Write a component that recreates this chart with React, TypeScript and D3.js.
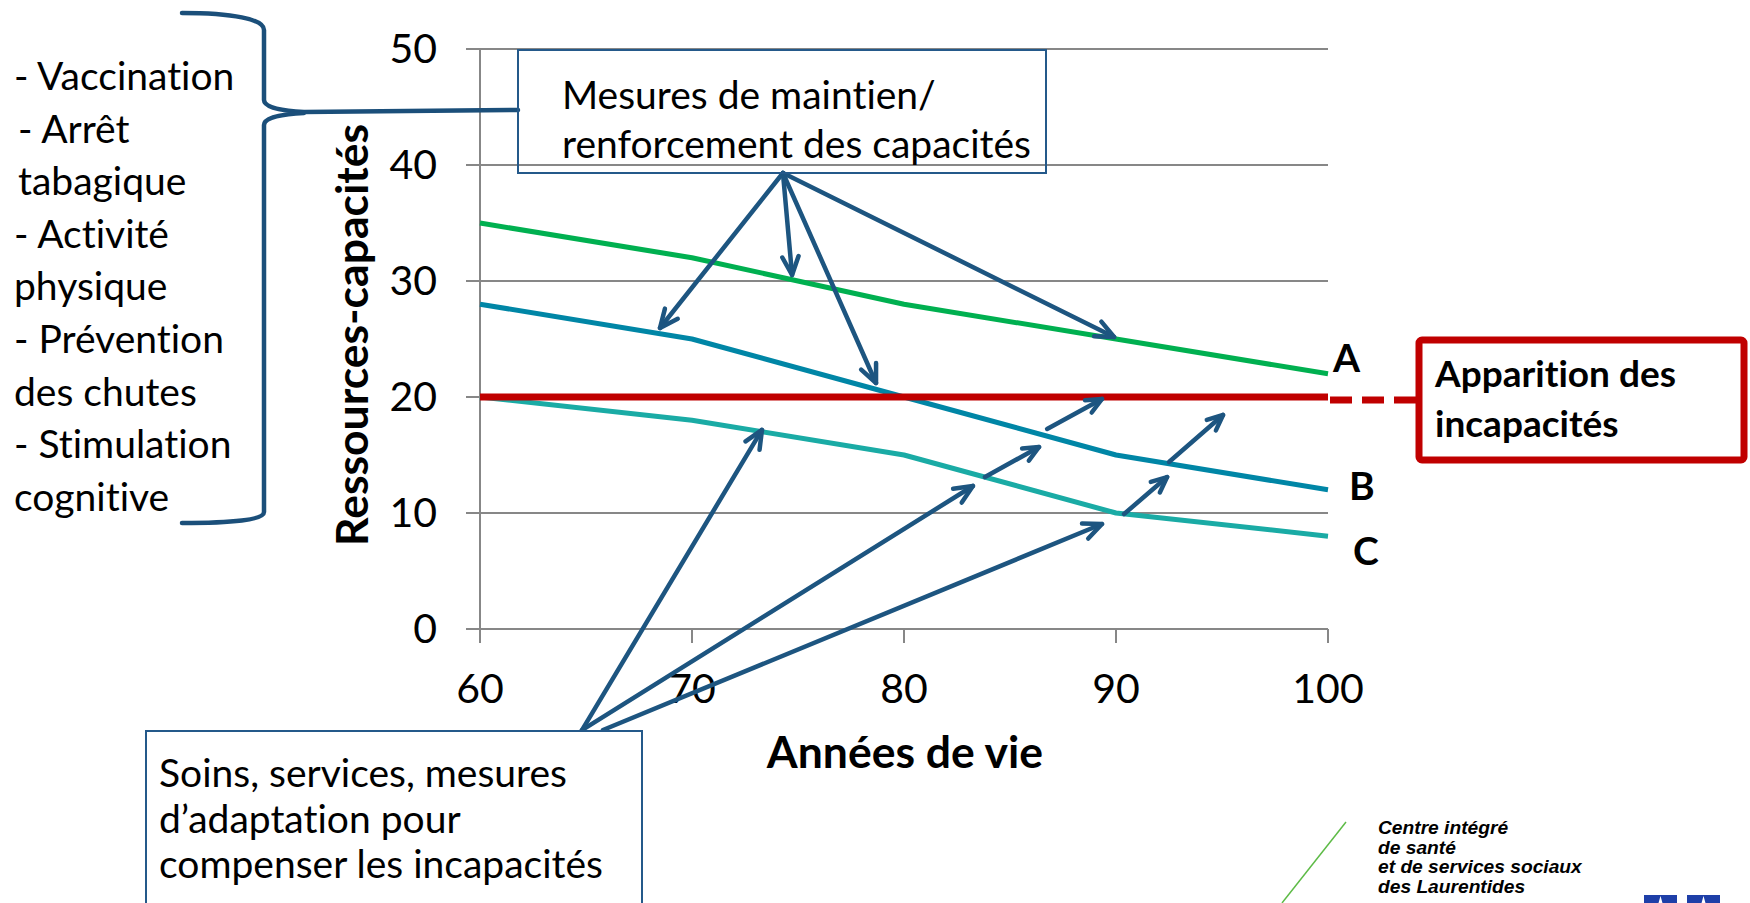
import React from "react";
import * as d3 from "d3";

const years = [60, 70, 80, 90, 100];
const seriesA = [35, 32, 28, 25, 22];
const seriesB = [28, 25, 20, 15, 12];
const seriesC = [20, 18, 15, 10, 8];
const threshold = 20;
const yTicks = [0, 10, 20, 30, 40, 50];
const xTicks = [60, 70, 80, 90, 100];
const seriesLabels = ["A", "B", "C"];

const leftList = [
  "- Vaccination",
  "- Arrêt",
  "tabagique",
  "- Activité",
  "physique",
  "- Prévention",
  "des chutes",
  "- Stimulation",
  "cognitive",
];
const leftIndent = [0, 4, 4, 0, 0, 0, 0, 0, 0];
const topBoxLines = ["Mesures de maintien/", "renforcement des capacités"];
const bottomBoxLines = ["Soins, services, mesures", "d’adaptation pour", "compenser les incapacités"];
const redBoxLines = ["Apparition des", "incapacités"];
const logoLines = ["Centre intégré", "de santé", "et de services sociaux", "des Laurentides"];

// arrows in data coordinates [x0, y0, x1, y1]
const topArrows = [
  [74.29, 39.31, 68.49, 25.95],
  [74.29, 39.31, 74.72, 30.52],
  [74.29, 39.31, 78.68, 21.21],
  [74.29, 39.31, 89.91, 25.17],
];
const bottomArrows = [
  [64.81, -8.71, 73.3, 17.16],
  [64.81, -8.71, 83.25, 12.33],
  [65.8, -8.71, 89.34, 9.05],
];
const smallArrows = [
  [83.82, 13.1, 86.37, 15.69],
  [86.75, 17.24, 89.34, 19.83],
  [90.38, 9.91, 92.41, 13.1],
  [92.5, 14.4, 95.05, 18.45],
];

const W = 1750;
const H = 903;
const x = d3.scaleLinear().domain([60, 100]).range([480, 1328]);
const y = d3.scaleLinear().domain([0, 50]).range([629, 49]);

const GRID = "#878787";
const ARROW = "#1D5580";
const RED = "#C00000";
const colors = ["#00B050", "#0086A6", "#1AABA5"];
const FONT = "Lato, 'Open Sans', sans-serif";

function Arrow({ a, head = 19 }: { a: number[]; head?: number }) {
  const x0 = x(a[0]), y0 = y(a[1]), x1 = x(a[2]), y1 = y(a[3]);
  const ang = Math.atan2(y1 - y0, x1 - x0);
  const spread = 0.42;
  const h1 = [x1 - head * Math.cos(ang - spread), y1 - head * Math.sin(ang - spread)];
  const h2 = [x1 - head * Math.cos(ang + spread), y1 - head * Math.sin(ang + spread)];
  return (
    <g stroke={ARROW} strokeWidth={4.5} fill="none" strokeLinecap="round" strokeLinejoin="round">
      <line x1={x0} y1={y0} x2={x1} y2={y1} />
      <path d={`M${h1[0]},${h1[1]}L${x1},${y1}L${h2[0]},${h2[1]}`} />
    </g>
  );
}

export default function App() {
  const series = [seriesA, seriesB, seriesC];
  const line = d3
    .line<number>()
    .x((_, i) => x(years[i]))
    .y((d) => y(d));

  return (
    <svg
      width={W}
      height={H}
      style={{
        position: "absolute",
        left: 0,
        top: 0,
        background: "#fff",
        fontVariantLigatures: "none",
        fontFeatureSettings: "'liga' 0, 'clig' 0, 'dlig' 0",
      }}
    >
      <rect x={0} y={0} width={W} height={H} fill="#fff" />
      {/* gridlines */}
      {yTicks.map((t) => (
        <line key={"g" + t} x1={466} x2={x(100)} y1={y(t)} y2={y(t)} stroke={GRID} strokeWidth={2} />
      ))}
      {/* y axis */}
      <line x1={x(60)} x2={x(60)} y1={y(50)} y2={y(0)} stroke={GRID} strokeWidth={2} />
      {/* x ticks */}
      {xTicks.map((t) => (
        <line key={"xt" + t} x1={x(t)} x2={x(t)} y1={y(0)} y2={y(0) + 14} stroke={GRID} strokeWidth={2} />
      ))}
      {/* y tick labels */}
      {yTicks.map((t) => (
        <text key={"yl" + t} x={437} y={y(t) + 14} textAnchor="end" fontFamily={FONT} fontSize={41} fill="#000">
          {t}
        </text>
      ))}
      {/* x tick labels */}
      {xTicks.map((t) => (
        <text key={"xl" + t} x={x(t)} y={703} textAnchor="middle" fontFamily={FONT} fontSize={41} fill="#000">
          {t}
        </text>
      ))}
      {/* axis titles */}
      <text
        transform="translate(368,335) rotate(-90)"
        textAnchor="middle"
        fontFamily={FONT}
        fontWeight="bold"
        fontSize={44.5}
        fill="#000"
      >
        Ressources-capacités
      </text>
      <text x={905} y={768} textAnchor="middle" fontFamily={FONT} fontWeight="bold" fontSize={44.5} fill="#000">
        Années de vie
      </text>

      {/* series */}
      {series.map((s, i) => (
        <path key={"s" + i} d={line(s) || ""} fill="none" stroke={colors[i]} strokeWidth={5} strokeLinejoin="round" />
      ))}
      {/* threshold */}
      <line x1={x(60)} x2={x(100)} y1={y(threshold)} y2={y(threshold)} stroke={RED} strokeWidth={7} />
      <line x1={x(100) + 2} x2={1416} y1={y(threshold) + 3} y2={y(threshold) + 3} stroke={RED} strokeWidth={7} strokeDasharray="22,10" />

      {/* series labels */}
      {seriesLabels.map((l, i) => (
        <text
          key={"lab" + l}
          x={[1333, 1349, 1353][i]}
          y={[372, 500, 565][i]}
          fontFamily={FONT}
          fontWeight="bold"
          fontSize={39}
          fill="#000"
        >
          {l}
        </text>
      ))}

      {/* arrows */}
      {topArrows.map((a, i) => (
        <Arrow key={"ta" + i} a={a} head={20} />
      ))}
      {bottomArrows.map((a, i) => (
        <Arrow key={"ba" + i} a={a} head={20} />
      ))}
      {smallArrows.map((a, i) => (
        <Arrow key={"sa" + i} a={a} head={17} />
      ))}

      {/* bracket */}
      <g stroke="#1B4F7A" strokeWidth={4.5} fill="none" strokeLinecap="round">
        <path d="M182,13 C232,13 264,19 264,30 L264,100 C264,108 284,111 304,112 L518,110" />
        <path d="M304,113 C284,114 264,117 264,125 L264,512 C264,520 232,523 182,523" />
      </g>

      {/* left list */}
      {leftList.map((t, i) => (
        <text key={"ll" + i} x={14 + leftIndent[i]} y={90 + i * 52.6} fontFamily={FONT} fontSize={39} fill="#000">
          {t}
        </text>
      ))}

      {/* top box */}
      <rect x={518} y={50} width={528} height={123} fill="none" stroke="#24598A" strokeWidth={2} />
      {topBoxLines.map((t, i) => (
        <text key={"tb" + i} x={562} y={109 + i * 49} fontFamily={FONT} fontSize={39} fill="#000">
          {t}
        </text>
      ))}

      {/* bottom box */}
      <rect x={146} y={731} width={496} height={190} fill="#fff" stroke="#24598A" strokeWidth={2} />
      {bottomBoxLines.map((t, i) => (
        <text key={"bb" + i} x={159} y={787 + i * 45.5} fontFamily={FONT} fontSize={39} fill="#000">
          {t}
        </text>
      ))}

      {/* red box */}
      <rect x={1419} y={340} width={325} height={120} rx={3} fill="#fff" stroke={RED} strokeWidth={7} />
      {redBoxLines.map((t, i) => (
        <text key={"rb" + i} x={1435} y={387 + i * 50} fontFamily={FONT} fontWeight="bold" fontSize={37} fill="#000">
          {t}
        </text>
      ))}

      {/* logo */}
      <line x1={1282} y1={903} x2={1346} y2={822} stroke="#5DBB46" strokeWidth={1.5} />
      {logoLines.map((t, i) => (
        <text
          key={"lg" + i}
          x={1378}
          y={834 + i * 19.6}
          fontFamily="'Liberation Sans', Arial, sans-serif"
          fontWeight="bold"
          fontStyle="italic"
          fontSize={19.2}
          fill="#000"
        >
          {t}
        </text>
      ))}
      <rect x={1644} y={895} width={33} height={10} fill="#1E3FA8" />
      <rect x={1687} y={895} width={33} height={10} fill="#1E3FA8" />
      <path d="M1660.5,896 l-2,7 h4 z" fill="#fff" />
      <path d="M1703.5,896 l-2,7 h4 z" fill="#fff" />
    </svg>
  );
}
